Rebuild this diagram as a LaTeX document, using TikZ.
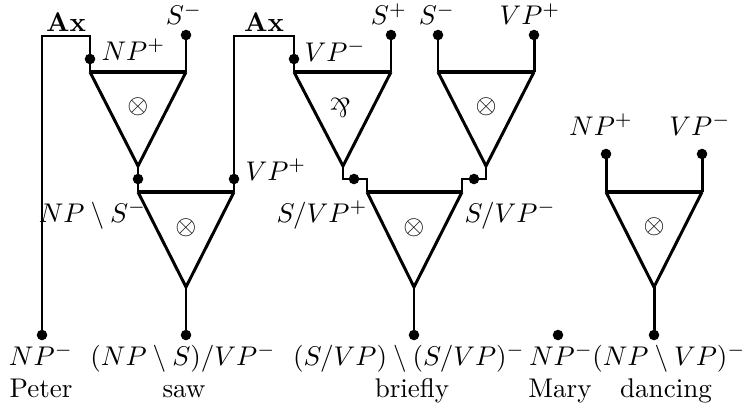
\documentclass[tikz,border=0pt]{standalone}
\usepackage{graphicx}
\begin{document}
\begin{tikzpicture}[x=0.37pt,y=-0.37pt,
  wire/.style={line width=1.1pt},
  top/.style={line width=1.5pt},
  dot/.style={circle,fill=black,inner sep=0pt,minimum size=3.9pt},
  lbl/.style={inner sep=0pt},
  sym/.style={inner sep=0pt}]
\useasboundingbox (0,0) rectangle (747,411);
% triangle corners
\coordinate (t1l) at (90,72);  \coordinate (t1r) at (186,72);  \coordinate (t1a) at (138,166);
\coordinate (t2l) at (138,192); \coordinate (t2r) at (234,192); \coordinate (t2a) at (186,287);
\coordinate (t3l) at (294,72); \coordinate (t3r) at (391,72);  \coordinate (t3a) at (343,166);
\coordinate (t4l) at (438,72); \coordinate (t4r) at (534,72);  \coordinate (t4a) at (486,166);
\coordinate (t5l) at (367,192); \coordinate (t5r) at (462,192); \coordinate (t5a) at (414,287);
\coordinate (t6l) at (606,192); \coordinate (t6r) at (702,192); \coordinate (t6a) at (654,287);
% corners of links
\coordinate (ax1l) at (42,36); \coordinate (ax1r) at (90,36);
\coordinate (ax2l) at (234,36); \coordinate (ax2r) at (294,36);
\coordinate (k1) at (343,179); \coordinate (k2) at (367,179);
\coordinate (k3) at (486,179); \coordinate (k4) at (462,179);
% dots
\node[dot] (d1) at (90,59) {};
\node[dot] (d2) at (186,35) {};
\node[dot] (d3) at (138,179) {};
\node[dot] (d4) at (234,179) {};
\node[dot] (d5) at (294,59) {};
\node[dot] (d6) at (391,35) {};
\node[dot] (d7) at (354,179) {};
\node[dot] (d8) at (438,35) {};
\node[dot] (d9) at (534,35) {};
\node[dot] (d10) at (474,179) {};
\node[dot] (d11) at (606,154) {};
\node[dot] (d12) at (702,154) {};
\node[dot] (b1) at (42,335) {};
\node[dot] (b2) at (186,335) {};
\node[dot] (b3) at (414,335) {};
\node[dot] (b4) at (558,335) {};
\node[dot] (b5) at (654,335) {};
% triangles
\foreach \t in {1,...,6}{
  \draw[wire,line join=miter] (t\t l) -- (t\t a) -- (t\t r);
  \draw[top] (t\t l) -- (t\t r);
}
\node[sym] (s1) at (138,107) {$\otimes$};
\node[sym] (s2) at (186,228) {$\otimes$};
\node[sym] (s3) at (340,108) {\rotatebox[origin=c]{180}{\&}};
\node[sym] (s4) at (486,107) {$\otimes$};
\node[sym] (s5) at (414,228) {$\otimes$};
\node[sym] (s6) at (654,227) {$\otimes$};
% links
\draw[wire] (t1l) -- (ax1r) -- (ax1l) -- (b1.center);
\draw[wire] (d2.center) -- (t1r);
\draw[wire] (t1a) -- (t2l);
\draw[wire] (t2r) -- (ax2l) -- (ax2r) -- (t3l);
\draw[wire] (d6.center) -- (t3r);
\draw[wire] (t3a) -- (k1) -- (k2) -- (t5l);
\draw[wire] (d8.center) -- (t4l);
\draw[wire] (d9.center) -- (t4r);
\draw[wire] (t4a) -- (k3) -- (k4) -- (t5r);
\draw[wire] (t2a) -- (b2.center);
\draw[wire] (t5a) -- (b3.center);
\draw[wire] (t6a) -- (b5.center);
\draw[wire] (d11.center) -- (t6l);
\draw[wire] (d12.center) -- (t6r);
% labels
\node[lbl,anchor=base] (ax1) at (66,31) {\textbf{Ax}};
\node[lbl,anchor=base] (ax2) at (264,31) {\textbf{Ax}};
\node[lbl,anchor=base west] (l1) at (101,60) {$NP^{+}$};
\node[lbl,anchor=base] (l2) at (184,25) {$S^{-}$};
\node[lbl,anchor=base west] (l3) at (304,61) {$VP^{-}$};
\node[lbl,anchor=base] (l4) at (389,25) {$S^{+}$};
\node[lbl,anchor=base] (l5) at (437,25) {$S^{-}$};
\node[lbl,anchor=base] (l6) at (530,25) {$VP^{+}$};
\node[lbl,anchor=base west] (l7) at (245,180) {$VP^{+}$};
\node[lbl,anchor=base east] (l8) at (147,222) {$NP\setminus S^{-}$};
\node[lbl,anchor=base east] (l9) at (368,222) {$S/VP^{+}$};
\node[lbl,anchor=base west] (l10) at (464,222) {$S/VP^{-}$};
\node[lbl,anchor=base] (l11) at (601,135) {$NP^{+}$};
\node[lbl,anchor=base] (l12) at (700,135) {$VP^{-}$};
% bottom
\node[lbl,anchor=base] (f1) at (41,365) {$NP^{-}$};
\node[lbl,anchor=base] (f2) at (183,365) {$(NP\setminus S)/VP^{-}$};
\node[lbl,anchor=base] (f3) at (409,365) {$(S/VP)\setminus(S/VP)^{-}$};
\node[lbl,anchor=base] (f4) at (561,365) {$NP^{-}$};
\node[lbl,anchor=base] (f5) at (669,365) {$(NP\setminus VP)^{-}$};
\node[lbl,anchor=base] (w1) at (41,397) {Peter};
\node[lbl,anchor=base] (w2) at (184,397) {saw};
\node[lbl,anchor=base] (w3) at (412,397) {briefly};
\node[lbl,anchor=base] (w4) at (560,397) {Mary};
\node[lbl,anchor=base] (w5) at (666,397) {dancing};
\end{tikzpicture}
\end{document}
